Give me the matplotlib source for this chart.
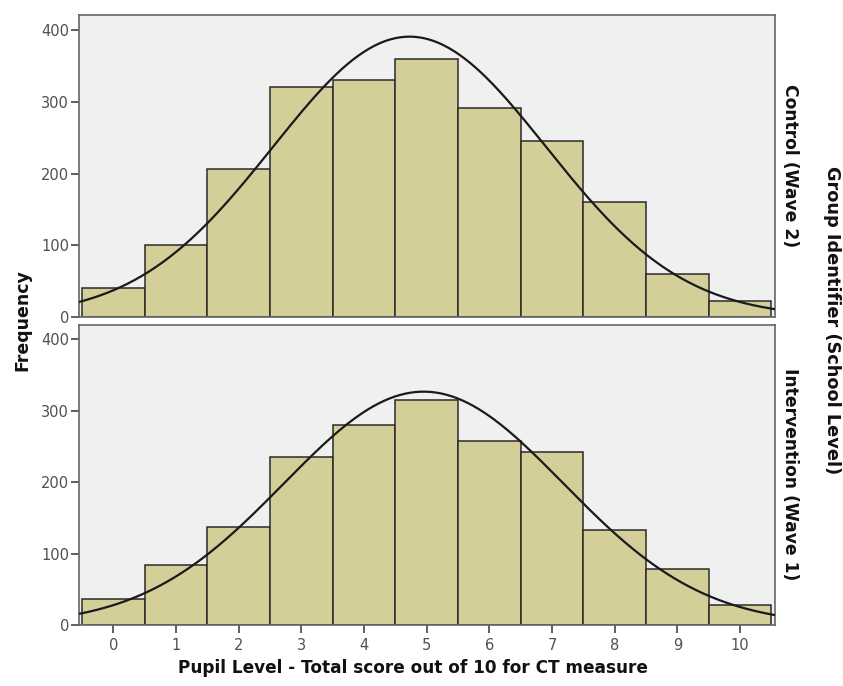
import numpy as np
import matplotlib
matplotlib.use("Agg")
import matplotlib.pyplot as plt

scores = [0, 1, 2, 3, 4, 5, 6, 7, 8, 9, 10]
control_counts = [40, 101, 207, 320, 331, 359, 291, 245, 160, 60, 22]
intervention_counts = [37, 84, 137, 235, 280, 315, 258, 242, 133, 78, 28]
y_ticks = [0, 100, 200, 300, 400]
panel_labels = ["Control (Wave 2)", "Intervention (Wave 1)"]

fig = plt.figure(figsize=(8.43, 6.86), dpi=100)
fig.patch.set_facecolor("white")

L, W = 79 / 843, (775 - 79) / 843
ax_top = fig.add_axes([L, 1 - 317 / 686, W, (317 - 15) / 686])
ax_bot = fig.add_axes([L, 1 - 625 / 686, W, (625 - 325) / 686])

bar_color = "#D4CF98"
edge = "#2a2a2a"
bg = "#F0F0F0"
tick_col = "#505050"

def draw(ax, counts, ymax):
    x = np.array(scores, dtype=float)
    c = np.array(counts, dtype=float)
    ax.set_facecolor(bg)
    ax.bar(x, c, width=1.0, color=bar_color, edgecolor=edge, linewidth=1.1, zorder=2)
    n = c.sum()
    mu = (x * c).sum() / n
    sd = np.sqrt(((x - mu) ** 2 * c).sum() / (n - 1))
    xs = np.linspace(-0.55, 10.56, 400)
    ys = n / (sd * np.sqrt(2 * np.pi)) * np.exp(-0.5 * ((xs - mu) / sd) ** 2)
    ax.plot(xs, ys, color="#1a1a1a", lw=1.6, zorder=3)
    ax.set_xlim(-0.55, 10.56)
    ax.set_ylim(0, ymax)
    ax.set_yticks(y_ticks)
    ax.set_yticklabels([str(v) for v in y_ticks])
    ax.tick_params(axis="y", direction="out", length=6, width=1.2, color="#444444",
                   labelcolor=tick_col, labelsize=10.5, pad=1)
    for s in ax.spines.values():
        s.set_color("#666666")
        s.set_linewidth(1.2)

draw(ax_top, control_counts, 421)
draw(ax_bot, intervention_counts, 420)

ax_top.set_xticks([])
ax_bot.set_xticks(scores)
ax_bot.set_xticklabels([str(s) for s in scores])
ax_bot.tick_params(axis="x", direction="out", length=6, width=1.2, color="#444444",
                   labelcolor=tick_col, labelsize=10.5, pad=3)

fig.text(0.937, (1 - 166 / 686), panel_labels[0], rotation=-90, ha="center", va="center",
         fontsize=12.3, fontweight="bold", color="#111111")
fig.text(0.937, (1 - 474 / 686), panel_labels[1], rotation=-90, ha="center", va="center",
         fontsize=12.3, fontweight="bold", color="#111111")
fig.text(0.987, (1 - 320 / 686), "Group Identifier (School Level)", rotation=-90,
         ha="center", va="center", fontsize=12.8, fontweight="bold", color="#111111")
fig.text(0.026, (1 - 320 / 686), "Frequency", rotation=90, ha="center", va="center",
         fontsize=12.5, fontweight="bold", color="#111111")
fig.text(413 / 843, 1 - 668 / 686, "Pupil Level - Total score out of 10 for CT measure",
         ha="center", va="center", fontsize=12.2, fontweight="bold", color="#111111")

fig.savefig("out.png", dpi=100)
